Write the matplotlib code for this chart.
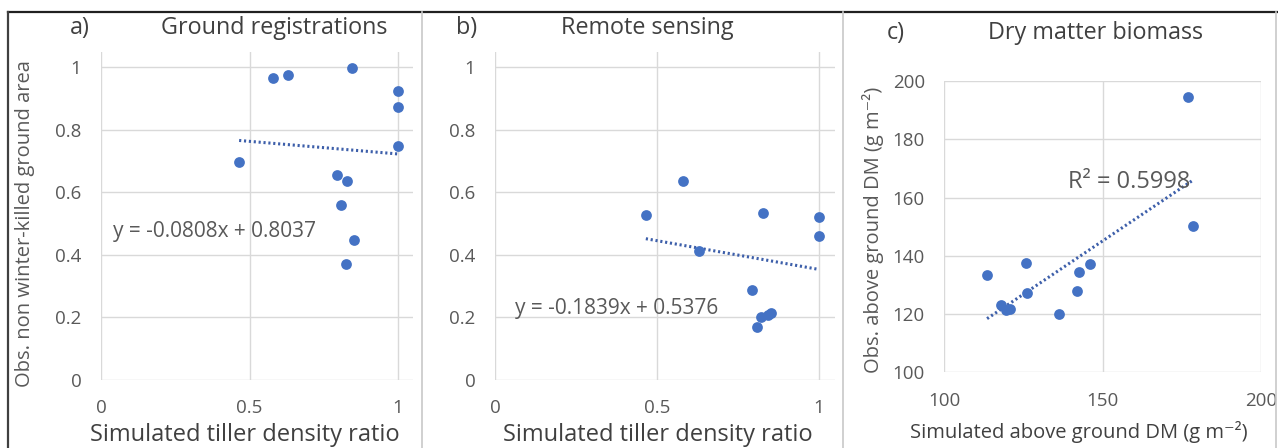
import numpy as np
import matplotlib
matplotlib.use("Agg")
import matplotlib.pyplot as plt
from matplotlib.lines import Line2D

plt.rcParams['font.family'] = ['Open Sans', 'DejaVu Sans']

# a) ground registrations
a_x = [0.465, 0.579, 0.631, 0.844, 1.0, 1.0, 1.0, 0.793, 0.827, 0.809, 0.852, 0.824]
a_y = [0.698, 0.965, 0.974, 0.999, 0.924, 0.874, 0.748, 0.655, 0.638, 0.561, 0.449, 0.372]
a_fit = [-0.0808, 0.8037]
a_eq = "y = -0.0808x + 0.8037"

# b) remote sensing
b_x = [0.466, 0.582, 0.629, 0.827, 1.0, 1.0, 0.795, 0.809, 0.822, 0.843, 0.853]
b_y = [0.529, 0.636, 0.412, 0.534, 0.520, 0.459, 0.287, 0.170, 0.202, 0.207, 0.214]
b_fit = [-0.1839, 0.5376]
b_eq = "y = -0.1839x + 0.5376"

# c) dry matter biomass
c_x = [113.5, 117.8, 119.6, 120.7, 125.9, 126.2, 136.1, 141.8, 142.5, 146.1, 177.0, 178.5]
c_y = [133.3, 123.1, 121.4, 121.6, 137.5, 127.2, 120.0, 127.9, 134.3, 137.2, 194.6, 150.3]
c_r2 = "R\u00b2 = 0.5998"

blue = '#4472C4'
trend_c = '#3D5FAA'
grid_c = '#D9D9D9'
txt = '#595959'
dark = '#404040'

fig = plt.figure(figsize=(12.78, 4.48), dpi=100)


def style(ax):
    for s in ax.spines.values():
        s.set_visible(False)
    ax.grid(True, color=grid_c, linewidth=1)
    ax.set_axisbelow(True)
    ax.tick_params(length=0, labelsize=13.5, labelcolor=txt)
    ax.tick_params(axis='x', pad=14)
    ax.tick_params(axis='y', pad=14)


def trend(ax, xs, slope, icpt):
    xx = np.array([min(xs), max(xs)])
    ax.plot(xx, slope * xx + icpt, color=trend_c, linestyle=(0, (0.7, 0.9)), linewidth=2.2)


# panel a
ax1 = fig.add_axes([0.0790, 0.1518, 0.2441, 0.7328])
style(ax1)
ax1.set_xlim(0, 1.05)
ax1.set_ylim(0, 1.05)
ax1.set_xticks([0, 0.5, 1])
ax1.set_xticklabels(['0', '0.5', '1'])
ax1.set_yticks([0, 0.2, 0.4, 0.6, 0.8, 1])
ax1.set_yticklabels(['0', '0.2', '0.4', '0.6', '0.8', '1'])
trend(ax1, a_x, *a_fit)
ax1.scatter(a_x, a_y, s=60, color=blue, zorder=3, linewidths=0)
ax1.text(0.04, 0.474, a_eq, fontsize=15, color=txt, va='center')
ax1.set_xlabel("Simulated tiller density ratio", fontsize=17, color=dark)
ax1.xaxis.set_label_coords(0.46, -0.168)
ax1.xaxis.label.set_va('center')
ax1.set_ylabel("Obs. non winter-killed ground area", fontsize=14.5, color=txt)
ax1.yaxis.set_label_coords(-0.244, 0.475)
ax1.yaxis.label.set_va('center')

# panel b
ax2 = fig.add_axes([0.3873, 0.1518, 0.2660, 0.7328])
style(ax2)
ax2.set_xlim(0, 1.05)
ax2.set_ylim(0, 1.05)
ax2.set_xticks([0, 0.5, 1])
ax2.set_xticklabels(['0', '0.5', '1'])
ax2.set_yticks([0, 0.2, 0.4, 0.6, 0.8, 1])
ax2.set_yticklabels(['0', '0.2', '0.4', '0.6', '0.8', '1'])
trend(ax2, b_x, *b_fit)
ax2.scatter(b_x, b_y, s=60, color=blue, zorder=3, linewidths=0)
ax2.text(0.062, 0.229, b_eq, fontsize=15, color=txt, va='center')
ax2.set_xlabel("Simulated tiller density ratio", fontsize=17, color=dark)
ax2.xaxis.set_label_coords(0.478, -0.168)
ax2.xaxis.label.set_va('center')

# panel c
ax3 = fig.add_axes([0.7389, 0.1690, 0.2478, 0.6502])
style(ax3)
ax3.set_xlim(100, 200)
ax3.set_ylim(100, 200)
ax3.set_xticks([100, 150, 200])
ax3.set_yticks([100, 120, 140, 160, 180, 200])
c_fit = np.polyfit(c_x, c_y, 1)
trend(ax3, c_x, *c_fit)
ax3.scatter(c_x, c_y, s=60, color=blue, zorder=3, linewidths=0)
ax3.text(139, 165.4, c_r2, fontsize=17, color=txt, va='center')
ax3.set_xlabel("Simulated above ground DM (g m\u207b\u00b2)", fontsize=14.5, color=dark)
ax3.xaxis.set_label_coords(0.424, -0.205)
ax3.xaxis.label.set_va('center')
ax3.set_ylabel("Obs. above ground DM (g m\u207b\u00b2)", fontsize=14.5, color=txt)
ax3.yaxis.set_label_coords(-0.225, 0.489)
ax3.yaxis.label.set_va('center')

# panel headings
W, H = 1278.0, 448.0
heads = [("a)", 80, 28), ("Ground registrations", 274, 28),
         ("b)", 467, 28), ("Remote sensing", 647, 28),
         ("c)", 896, 33), ("Dry matter biomass", 1096, 33)]
for t, px, py in heads:
    fig.text(px / W, 1 - py / H, t, fontsize=16.8, color=dark, ha='center', va='center')

# panel frames
top = 1 - 12.5 / H
fig.add_artist(Line2D([8 / W, 1], [top, top], color='#202020', linewidth=1.6))
fig.add_artist(Line2D([8 / W, 8 / W], [0, top], color='#404040', linewidth=1.6))
for px in [422, 843, 1276]:
    fig.add_artist(Line2D([px / W, px / W], [0, top], color='#C8C8C8', linewidth=1.2))

fig.savefig("out.png", dpi=100)
